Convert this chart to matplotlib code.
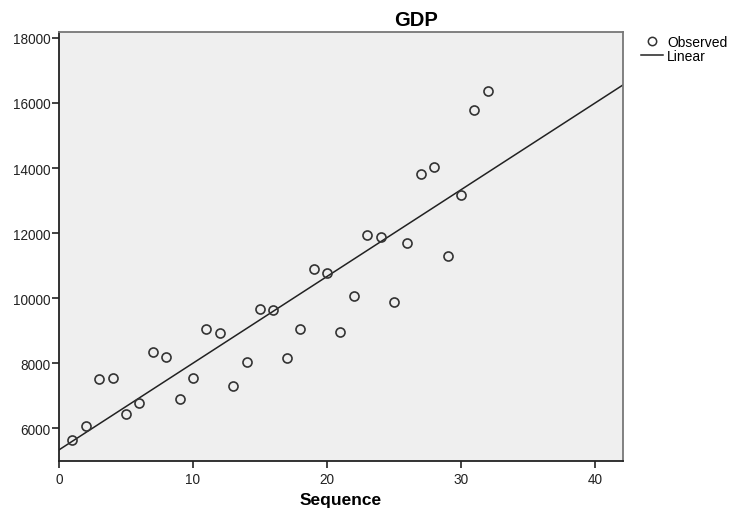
import numpy as np
import matplotlib.pyplot as plt
from matplotlib.lines import Line2D

plt.rcParams['font.family'] = ['Liberation Sans', 'DejaVu Sans']

# GDP observed by sequence
sequence = np.arange(1, 33)
gdp = [5640, 6080, 7530, 7560, 6430, 6790, 8350, 8210, 6900, 7560,
       9060, 8940, 7310, 8040, 9670, 9650, 8150, 9050, 10910, 10790,
       8960, 10080, 11950, 11880, 9890, 11700, 13830, 14040, 11310, 13160,
       15770, 16370]
xticks = [0, 10, 20, 30, 40]
yticks = [6000, 8000, 10000, 12000, 14000, 16000, 18000]

fig = plt.figure(figsize=(7.32, 5.10), dpi=100)
ax = fig.add_axes([59/732, 1-462/510, (623-59)/732, (462-33)/510])
ax.set_facecolor('#efefef')

ax.plot(sequence, gdp, 'o', ms=6.5, mfc='none', mec='#333333', mew=1.2, zorder=3)

# linear fit
b, a = np.polyfit(sequence, gdp, 1)
xs = np.array([0, 42.1])
ax.plot(xs, a + b*xs, color='#222222', lw=1.1, zorder=2)

ax.set_xlim(0, 42.1)
ax.set_ylim(5000, 18180)
ax.set_xticks(xticks)
ax.set_yticks(yticks)
ax.tick_params(direction='out', length=5, width=1.2, labelsize=9.8, colors='#222222')
ax.tick_params(axis='x', pad=3)
ax.tick_params(axis='y', pad=1)
for s in ['left', 'bottom']:
    ax.spines[s].set_color('#222222')
    ax.spines[s].set_linewidth(1.3)
for s in ['top', 'right']:
    ax.spines[s].set_color('#777777')
    ax.spines[s].set_linewidth(1.3)

ax.set_xlabel('Sequence', fontsize=12.5, fontweight='bold', labelpad=4)
fig.text(416/732, 1-20/510, 'GDP', ha='center', va='center', fontsize=14.5, fontweight='bold')

handles = [Line2D([], [], ls='none', marker='o', ms=6, mfc='none', mec='#333333', mew=1.1),
           Line2D([], [], color='#222222', lw=1.1)]
fig.legend(handles, ['Observed', 'Linear'], loc='upper left',
           bbox_to_anchor=(634/732, 1-29/510), frameon=False, fontsize=10,
           handlelength=1.6, handletextpad=0.3, labelspacing=0.0, borderpad=0)

fig.savefig('out.png', dpi=100)
